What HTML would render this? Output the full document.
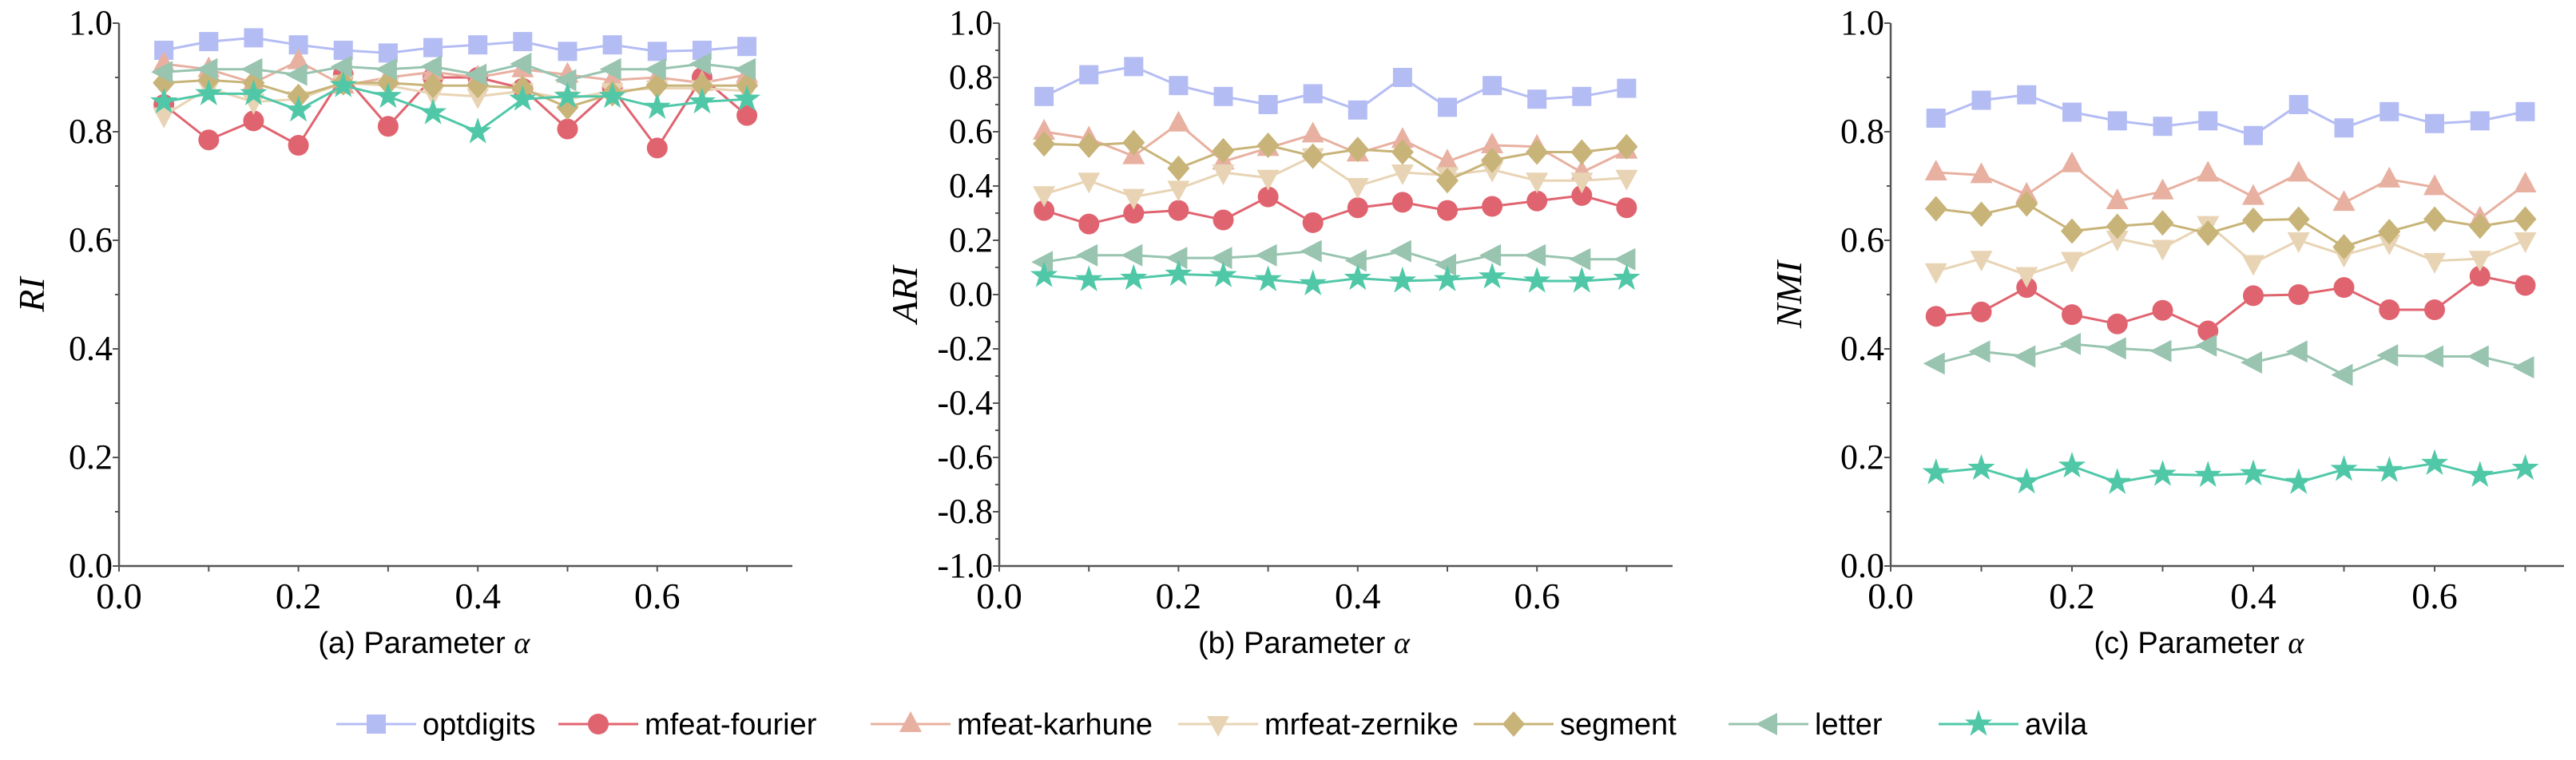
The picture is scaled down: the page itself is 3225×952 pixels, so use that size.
<!DOCTYPE html>
<html><head><meta charset="utf-8"><style>body{margin:0;background:#fff}svg{display:block}</style></head>
<body>
<svg id="s" width="3225" height="952" xmlns="http://www.w3.org/2000/svg"></svg>
<script>
const S=document.getElementById('s');let h='';
const C={o:'#b4bcf4',f:'#e06470',k:'#e8b0a0',z:'#e8d4b4',s:'#c8b478',l:'#98c4b0',a:'#50c8a8'};
const xs=[];for(let i=1;i<=14;i++)xs.push(i*0.05);
function mk(t,x,y,c){
 if(t=='o')return `<rect x="${x-12}" y="${y-12}" width="24" height="24" fill="${c}"/>`;
 if(t=='f')return `<circle cx="${x}" cy="${y}" r="13" fill="${c}"/>`;
 if(t=='k')return `<polygon points="${x},${y-16} ${x+14},${y+10} ${x-14},${y+10}" fill="${c}"/>`;
 if(t=='z')return `<polygon points="${x},${y+16} ${x+14},${y-10} ${x-14},${y-10}" fill="${c}"/>`;
 if(t=='s')return `<polygon points="${x},${y-16} ${x+14},${y} ${x},${y+16} ${x-14},${y}" fill="${c}"/>`;
 if(t=='l')return `<polygon points="${x-16},${y} ${x+11},${y-14} ${x+11},${y+14}" fill="${c}"/>`;
 if(t=='a'){let p=[];for(let i=0;i<10;i++){let r=i%2?7:18,a=-Math.PI/2+i*Math.PI/5;p.push((x+r*Math.cos(a)).toFixed(1)+','+(y+r*Math.sin(a)).toFixed(1));}return `<polygon points="${p.join(' ')}" fill="${c}"/>`;}
}
const order=['o','f','k','z','s','l','a'];
function panel(ax,ex,sc,ymin,lab,title,ylab,ylabx,data){
 const top=29,bot=709;
 const Y=v=>bot-(v-ymin)/(1-ymin)*(bot-top), X=v=>ax+v*sc*100;
 h+=`<line x1="${ax}" y1="${top}" x2="${ax}" y2="${bot}" stroke="#555" stroke-width="2.5"/>`;
 h+=`<line x1="${ax}" y1="${bot}" x2="${ex}" y2="${bot}" stroke="#555" stroke-width="2.5"/>`;
 for(let v=ymin;v<=1.0001;v+=0.1){let y=Y(v);let maj=Math.round(v*10)%2==0;h+=`<line x1="${ax-(maj?8:5)}" y1="${y}" x2="${ax}" y2="${y}" stroke="#555" stroke-width="2"/>`;
  if(maj)h+=`<text x="${ax-8}" y="${y+14}" font-family="Liberation Serif" font-size="44" text-anchor="end">${v.toFixed(1).replace('-0.0','0.0')}</text>`;}
 for(let i=0;i<=7;i++){let x=X(i/10);h+=`<line x1="${x}" y1="${bot}" x2="${x}" y2="${bot+7}" stroke="#555" stroke-width="2"/>`;
  if(i%2==0)h+=`<text x="${x}" y="762" font-family="Liberation Serif" font-size="46" text-anchor="middle">${(i/10).toFixed(1)}</text>`;}
 h+=`<text x="${X(0.34)}" y="818" font-family="Liberation Sans" font-size="38" text-anchor="middle">${title} <tspan font-family="Liberation Serif" font-style="italic">α</tspan></text>`;
 h+=`<text transform="translate(${ylabx},369) rotate(-90)" font-family="Liberation Serif" font-style="italic" font-size="46" text-anchor="middle">${ylab}</text>`;
 order.forEach(k=>{let d=data[k];let pts=d.map((v,i)=>X(xs[i]).toFixed(1)+','+Y(v).toFixed(1));
  h+=`<polyline points="${pts.join(' ')}" fill="none" stroke="${C[k]}" stroke-width="3"/>`;
  d.forEach((v,i)=>h+=mk(k,X(xs[i]),Y(v),C[k]));});
}
panel(149,992,11.23,0,'','(a) Parameter','RI',55,{
o:[0.95,0.966,0.973,0.96,0.95,0.945,0.955,0.96,0.966,0.948,0.96,0.948,0.95,0.957],
f:[0.85,0.785,0.82,0.775,0.905,0.81,0.9,0.9,0.88,0.805,0.88,0.77,0.9,0.83],
k:[0.925,0.915,0.89,0.93,0.885,0.9,0.91,0.9,0.915,0.905,0.895,0.9,0.89,0.905],
z:[0.83,0.88,0.855,0.86,0.89,0.885,0.87,0.865,0.875,0.86,0.875,0.88,0.88,0.875],
s:[0.89,0.895,0.89,0.865,0.89,0.89,0.885,0.885,0.88,0.845,0.87,0.885,0.885,0.885],
l:[0.91,0.915,0.915,0.905,0.92,0.915,0.92,0.905,0.925,0.895,0.915,0.915,0.925,0.915],
a:[0.855,0.87,0.87,0.84,0.885,0.865,0.835,0.8,0.86,0.865,0.865,0.845,0.855,0.86]});
panel(1251,2094,11.22,-1,'','(b) Parameter','ARI',1148,{
o:[0.73,0.81,0.84,0.77,0.73,0.70,0.74,0.68,0.80,0.69,0.77,0.72,0.73,0.76],
f:[0.31,0.26,0.30,0.31,0.275,0.36,0.265,0.32,0.34,0.31,0.325,0.345,0.365,0.32],
k:[0.6,0.575,0.51,0.63,0.49,0.54,0.59,0.52,0.57,0.49,0.55,0.545,0.45,0.53],
z:[0.37,0.42,0.36,0.39,0.45,0.43,0.51,0.4,0.45,0.44,0.46,0.42,0.42,0.43],
s:[0.555,0.55,0.56,0.465,0.53,0.55,0.51,0.535,0.525,0.42,0.495,0.525,0.525,0.545],
l:[0.12,0.145,0.145,0.135,0.135,0.145,0.16,0.125,0.16,0.11,0.145,0.145,0.13,0.13],
a:[0.07,0.055,0.06,0.075,0.07,0.055,0.04,0.06,0.05,0.055,0.065,0.05,0.05,0.06]});
panel(2367,3210,11.35,0,'','(c) Parameter','NMI',2255,{
o:[0.825,0.858,0.868,0.836,0.82,0.81,0.82,0.793,0.85,0.807,0.837,0.815,0.82,0.837],
f:[0.46,0.468,0.513,0.463,0.446,0.471,0.433,0.498,0.5,0.513,0.472,0.472,0.534,0.517],
k:[0.725,0.72,0.684,0.74,0.672,0.69,0.723,0.68,0.723,0.669,0.712,0.698,0.64,0.703],
z:[0.543,0.566,0.536,0.564,0.603,0.586,0.63,0.558,0.6,0.573,0.596,0.562,0.566,0.6],
s:[0.658,0.648,0.667,0.617,0.626,0.632,0.613,0.637,0.639,0.588,0.616,0.639,0.626,0.639],
l:[0.373,0.395,0.386,0.409,0.401,0.396,0.406,0.375,0.395,0.352,0.388,0.386,0.386,0.366],
a:[0.172,0.18,0.155,0.184,0.154,0.169,0.167,0.17,0.154,0.178,0.176,0.189,0.167,0.18]});
const leg=[['o','optdigits',421],['f','mfeat-fourier',699],['k','mfeat-karhune',1090],['z','mrfeat-zernike',1475],['s','segment',1845],['l','letter',2164],['a','avila',2427]];
leg.forEach(([k,t,x])=>{h+=`<line x1="${x}" y1="907" x2="${x+100}" y2="907" stroke="${C[k]}" stroke-width="3"/>`+mk(k,x+50,907,C[k]);
 h+=`<text x="${x+108}" y="920" font-family="Liberation Sans" font-size="38">${t}</text>`;});
S.innerHTML=h;
</script>
</body></html>
